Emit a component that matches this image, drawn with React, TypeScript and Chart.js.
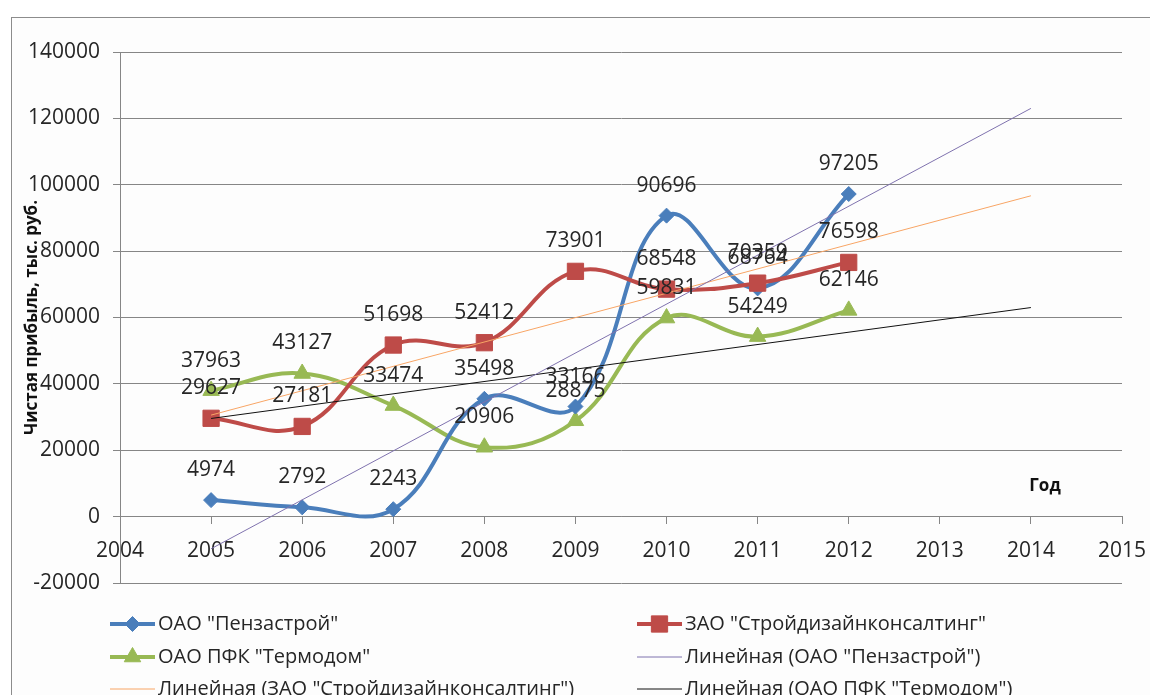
import React, { useEffect, useRef } from "react";
import { Chart, registerables } from "chart.js";

Chart.register(...registerables);

const years = [2005, 2006, 2007, 2008, 2009, 2010, 2011, 2012];
const pensastroy = [4974, 2792, 2243, 35498, 33166, 90696, 68764, 97205];
const stroydesign = [29627, 27181, 51698, 52412, 73901, 68548, 70359, 76598];
const termodom = [37963, 43127, 33474, 20906, 28875, 59831, 54249, 62146];

const trendYears = [2005, 2014];
const trendPensastroy = [-9687, 123009];
const trendStroydesign = [30593, 96672];
const trendTermodom = [29574, 62996];

const seriesNames = [
  'ОАО "Пензастрой"',
  'ЗАО "Стройдизайнконсалтинг"',
  'ОАО ПФК "Термодом"',
  'Линейная (ОАО "Пензастрой")',
  'Линейная (ЗАО "Стройдизайнконсалтинг")',
  'Линейная (ОАО ПФК "Термодом")',
];

const yAxisTitle = "Чистая прибыль, тыс. руб.";
const xAxisTitle = "Год";

const FONT = "'Open Sans', sans-serif";
const TEXT = "#262626";
const GRID = "#868686";

const toXY = (xs: number[], ys: number[]) => xs.map((x, i) => ({ x, y: ys[i] }));

const zeroPadding = (s: any) => {
  s.paddingLeft = 0;
  s.paddingRight = 0;
  s.paddingTop = 0;
  s.paddingBottom = 0;
};

const decorPlugin = {
  id: "decor",
  afterDatasetsDraw(chart: any) {
    const ctx = chart.ctx;
    ctx.save();
    // data labels for first 3 datasets
    ctx.font = `21px ${FONT}`;
    ctx.fillStyle = TEXT;
    ctx.textAlign = "center";
    ctx.textBaseline = "middle";
    for (let d = 0; d < 3; d++) {
      const meta = chart.getDatasetMeta(d);
      const ds = chart.data.datasets[d];
      meta.data.forEach((el: any, i: number) => {
        ctx.fillText(String(ds.data[i].y), el.x, el.y - 30);
      });
    }
    // axis titles
    ctx.font = `bold 17px ${FONT}`;
    ctx.fillStyle = "#111";
    const area = chart.chartArea;
    ctx.save();
    ctx.translate(32, (area.top + area.bottom) / 2);
    ctx.rotate(-Math.PI / 2);
    ctx.fillText(yAxisTitle, 0, 0);
    ctx.restore();
    ctx.fillText(xAxisTitle, 1045, 486);

    // legend
    const rowsY = [624, 657, 689];
    const colLine = [[110, 155], [637, 682]];
    ctx.font = `20px ${FONT}`;
    ctx.textAlign = "left";
    chart.data.datasets.forEach((ds: any, i: number) => {
      const col = i % 2;
      const row = Math.floor(i / 2);
      const y = rowsY[row];
      const [x1, x2] = colLine[col];
      ctx.strokeStyle = ds.borderColor;
      ctx.lineWidth = ds.borderWidth;
      ctx.beginPath();
      ctx.moveTo(x1, y);
      ctx.lineTo(x2, y);
      ctx.stroke();
      if (ds.pointRadius > 0) {
        ctx.fillStyle = ds.pointBackgroundColor;
        ctx.strokeStyle = ds.pointBorderColor;
        ctx.lineWidth = 1;
        const r = ds.pointRadius;
        const cx = (x1 + x2) / 2;
        ctx.beginPath();
        if (ds.pointStyle === "rectRot") {
          ctx.moveTo(cx, y - r);
          ctx.lineTo(cx + r, y);
          ctx.lineTo(cx, y + r);
          ctx.lineTo(cx - r, y);
        } else if (ds.pointStyle === "rect") {
          const s = r * Math.SQRT1_2;
          ctx.rect(cx - s, y - s, 2 * s, 2 * s);
        } else {
          ctx.moveTo(cx, y - r);
          ctx.lineTo(cx + r * 0.866, y + r / 2);
          ctx.lineTo(cx - r * 0.866, y + r / 2);
        }
        ctx.closePath();
        ctx.fill();
        ctx.stroke();
      }
      ctx.fillStyle = TEXT;
      ctx.fillText(seriesNames[i], x2 + 3, y);
    });
    ctx.restore();
  },
};

export default function App() {
  const canvasRef = useRef<HTMLCanvasElement | null>(null);

  useEffect(() => {
    document.body.style.margin = "0";
    const canvas = canvasRef.current!;
    const blue = "#4A7EBB";
    const red = "#BE4B48";
    const green = "#98B954";
    const chart = new Chart(canvas, {
      type: "line",
      data: {
        datasets: [
          {
            label: seriesNames[0],
            data: toXY(years, pensastroy),
            borderColor: blue,
            backgroundColor: blue,
            pointBackgroundColor: blue,
            pointBorderColor: blue,
            borderWidth: 4,
            pointStyle: "rectRot",
            pointRadius: 7.5,
            pointBorderWidth: 1,
            tension: 0.4,
            order: 5,
          },
          {
            label: seriesNames[1],
            data: toXY(years, stroydesign),
            borderColor: red,
            backgroundColor: red,
            pointBackgroundColor: red,
            pointBorderColor: red,
            borderWidth: 4,
            pointStyle: "rect",
            pointRadius: 11.5,
            pointBorderWidth: 1,
            tension: 0.4,
            order: 4,
          },
          {
            label: seriesNames[2],
            data: toXY(years, termodom),
            borderColor: green,
            backgroundColor: green,
            pointBackgroundColor: green,
            pointBorderColor: green,
            borderWidth: 4,
            pointStyle: "triangle",
            pointRadius: 9.5,
            pointBorderWidth: 1,
            tension: 0.4,
            order: 6,
          },
          {
            label: seriesNames[3],
            data: toXY(trendYears, trendPensastroy),
            borderColor: "#7F72AE",
            borderWidth: 1,
            pointRadius: 0,
            order: 1,
          },
          {
            label: seriesNames[4],
            data: toXY(trendYears, trendStroydesign),
            borderColor: "#F8A565",
            borderWidth: 1,
            pointRadius: 0,
            order: 2,
          },
          {
            label: seriesNames[5],
            data: toXY(trendYears, trendTermodom),
            borderColor: "#111111",
            borderWidth: 1,
            pointRadius: 0,
            order: 3,
          },
        ] as any,
      },
      options: {
        responsive: false,
        maintainAspectRatio: false,
        animation: false,
        devicePixelRatio: 1,
        layout: { padding: { left: 0, right: 28, top: 52, bottom: 112 } },
        plugins: {
          legend: { display: false },
          tooltip: { enabled: false },
        },
        scales: {
          x: {
            type: "linear",
            position: { y: 0 } as any,
            min: 2004,
            max: 2015,
            afterFit: zeroPadding,
            ticks: {
              stepSize: 1,
              callback: (v: any) => String(v),
              font: { family: FONT, size: 21 },
              color: TEXT,
              padding: 15,
              maxRotation: 0,
              autoSkip: false,
            },
            grid: {
              drawOnChartArea: false,
              drawTicks: true,
              tickLength: 7,
              color: GRID,
            },
            border: { display: true, color: GRID },
          },
          y: {
            type: "linear",
            min: -20000,
            max: 140000,
            afterFit: (scale: any) => {
              scale.width = 120;
              zeroPadding(scale);
            },
            ticks: {
              stepSize: 20000,
              callback: (v: any) => String(v),
              font: { family: FONT, size: 21 },
              color: TEXT,
              padding: 13,
            },
            grid: { color: GRID, tickLength: 7, drawTicks: true },
            border: { display: true, color: GRID },
          },
        },
      },
      plugins: [decorPlugin],
    });
    return () => chart.destroy();
  }, []);

  return (
    <div style={{ position: "fixed", left: 0, top: 0, width: 1150, height: 695, overflow: "hidden", background: "#fff" }}>
      <div
        style={{
          position: "absolute",
          left: 11,
          top: 17,
          width: 1160,
          height: 700,
          border: "1px solid #8c8c8c",
          background: "#fdfdfd",
        }}
      />
      <canvas ref={canvasRef} width={1150} height={695} style={{ position: "absolute", left: 0, top: 0 }} />
    </div>
  );
}
